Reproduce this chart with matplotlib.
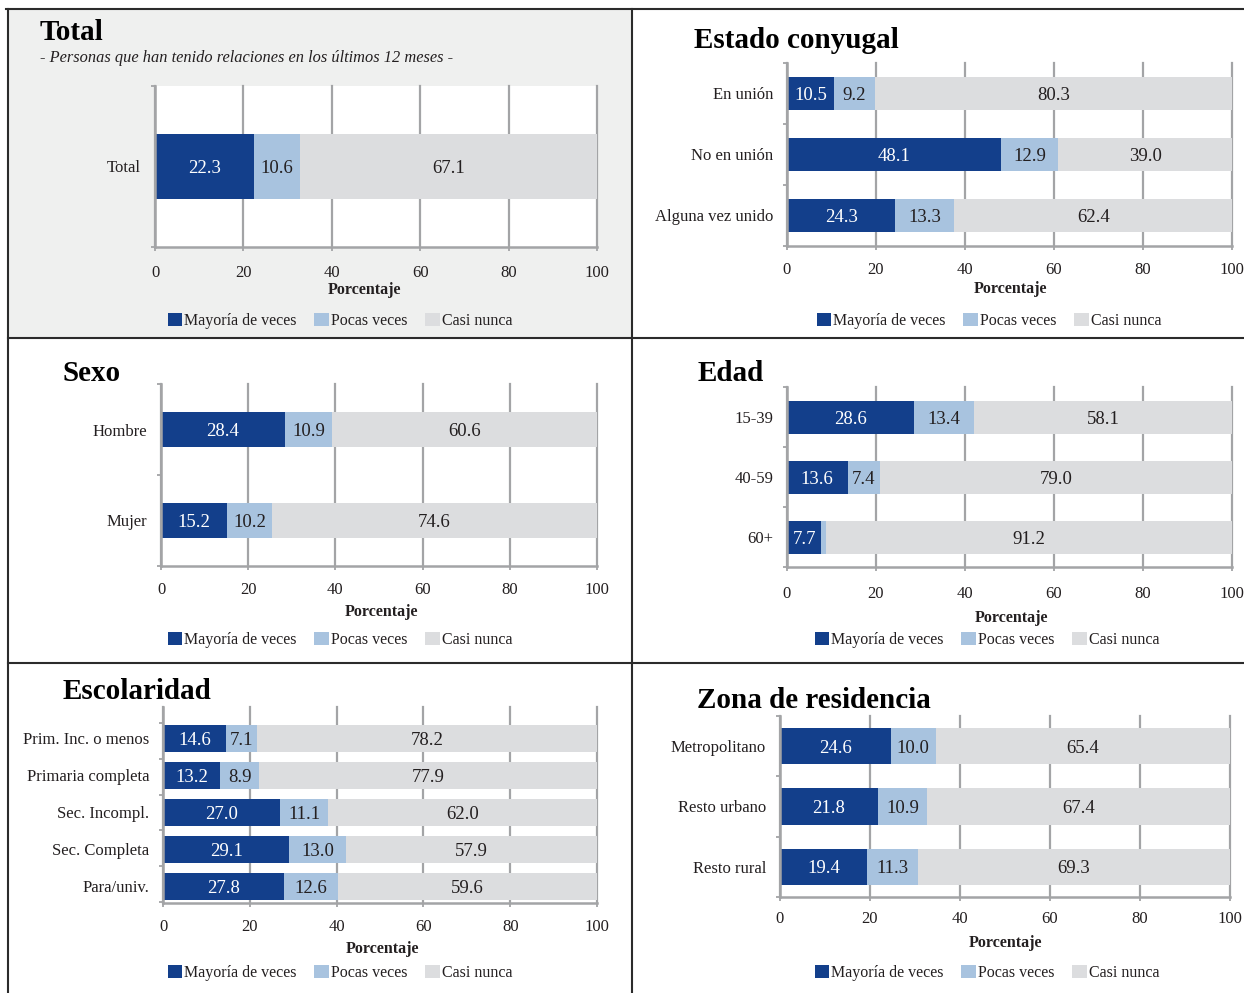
import matplotlib.pyplot as plt
from matplotlib.patches import Patch, Rectangle
from matplotlib.lines import Line2D

W, H = 1244, 993
plt.rcParams['font.family'] = ['Liberation Serif', 'DejaVu Serif']

series = ['Mayoría de veces', 'Pocas veces', 'Casi nunca']
colors = ['#133f8b', '#a8c3df', '#dcdddf']
text_colors = ['white', '#231f20', '#231f20']
grid_col = '#a3a4a6'
ink = '#231f20'

# data
total_cats = ['Total']
total_mayoria = [22.3]
total_pocas = [10.6]
total_casi = [67.1]

conyugal_cats = ['En unión', 'No en unión', 'Alguna vez unido']
conyugal_mayoria = [10.5, 48.1, 24.3]
conyugal_pocas = [9.2, 12.9, 13.3]
conyugal_casi = [80.3, 39.0, 62.4]

sexo_cats = ['Hombre', 'Mujer']
sexo_mayoria = [28.4, 15.2]
sexo_pocas = [10.9, 10.2]
sexo_casi = [60.6, 74.6]

edad_cats = ['15-39', '40-59', '60+']
edad_mayoria = [28.6, 13.6, 7.7]
edad_pocas = [13.4, 7.4, 1.1]
edad_casi = [58.1, 79.0, 91.2]

escol_cats = ['Prim. Inc. o menos', 'Primaria completa', 'Sec. Incompl.',
              'Sec. Completa', 'Para/univ.']
escol_mayoria = [14.6, 13.2, 27.0, 29.1, 27.8]
escol_pocas = [7.1, 8.9, 11.1, 13.0, 12.6]
escol_casi = [78.2, 77.9, 62.0, 57.9, 59.6]

zona_cats = ['Metropolitano', 'Resto urbano', 'Resto rural']
zona_mayoria = [24.6, 21.8, 19.4]
zona_pocas = [10.0, 10.9, 11.3]
zona_casi = [65.4, 67.4, 69.3]

xticks = [0, 20, 40, 60, 80, 100]


def fx(x):
    return x / W


def fy(y):
    return 1 - y / H


fig = plt.figure(figsize=(W / 100, H / 100), dpi=100)

# background of the first panel
fig.add_artist(Rectangle((fx(8), fy(338)), fx(632 - 8), (338 - 9) / H,
                         transform=fig.transFigure, facecolor='#eff0ef',
                         edgecolor='none', zorder=-1))


def panel(box, cats, vals, ylim, bar_h, yminor, title, title_xy,
          xlabel_xy, legend_xy, tick_gap):
    x0, y0, x1, y1 = box
    ax = fig.add_axes([fx(x0), fy(y1), fx(x1 - x0), (y1 - y0) / H])
    ax.set_facecolor('white')
    ypos = list(range(len(cats)))
    left = [0] * len(cats)
    for vs, c, tc in zip(vals, colors, text_colors):
        ax.barh(ypos, vs, left=left, height=bar_h, color=c, zorder=2)
        for y, l, v in zip(ypos, left, vs):
            if v >= 3:
                ax.text(l + v / 2, y, f'{v:.1f}', ha='center',
                        va='center_baseline', color=tc, fontsize=13.5,
                        zorder=3)
        left = [a + b for a, b in zip(left, vs)]
    ax.set_xlim(0, 100)
    ax.set_ylim(*ylim)
    ax.set_xticks(xticks)
    ax.set_yticks(ypos)
    ax.set_yticklabels(cats)
    ax.set_yticks(yminor, minor=True)
    ax.tick_params(axis='y', which='major', length=0, pad=10,
                   labelsize=12, labelcolor=ink)
    ax.tick_params(axis='y', which='minor', length=3, width=1.3,
                   color=grid_col, direction='out')
    ax.tick_params(axis='x', length=3, width=1.3, color=grid_col,
                   labelsize=12, labelcolor=ink,
                   pad=(tick_gap - 11) / 1.389)
    ax.xaxis.grid(True, color=grid_col, lw=1.6)
    for gl in ax.get_xgridlines():
        gl.set_clip_on(False)
    ax.set_axisbelow(True)
    for s in ['top', 'right']:
        ax.spines[s].set_visible(False)
    for s in ['left', 'bottom']:
        ax.spines[s].set_color(grid_col)
        ax.spines[s].set_linewidth(1.8)
    fig.text(fx(title_xy[0]), fy(title_xy[1]), title, fontsize=21,
             fontweight='bold', color='black', ha='left', va='baseline')
    fig.text(fx(xlabel_xy[0]), fy(xlabel_xy[1]), 'Porcentaje', fontsize=11.5,
             fontweight='bold', color=ink, ha='center', va='center')
    handles = [Patch(facecolor=c, edgecolor='none') for c in colors]
    fig.legend(handles, series, loc='center',
               bbox_to_anchor=(fx(legend_xy[0]), fy(legend_xy[1])),
               ncol=3, frameon=False, fontsize=11.5, handlelength=0.9,
               handleheight=0.9, handletextpad=0.15, columnspacing=1.1,
               borderaxespad=0, borderpad=0, labelcolor=ink)
    return ax


panel((155, 86, 597, 247), total_cats,
      [total_mayoria, total_pocas, total_casi], (0.5, -0.5), 0.4,
      [-0.5, 0.5], 'Total', (40, 40), (364, 290), (340, 321), 25)
fig.text(fx(40), fy(58), '- Personas que han tenido relaciones en los últimos 12 meses -',
         fontsize=11.8, style='italic', color=ink, ha='left', va='center')

panel((787, 63, 1232, 246), conyugal_cats,
      [conyugal_mayoria, conyugal_pocas, conyugal_casi], (2.5, -0.5), 0.54,
      [-0.5, 0.5, 1.5, 2.5], 'Estado conyugal', (694, 48), (1010, 289),
      (989, 321), 23)

panel((161, 384, 597, 566), sexo_cats,
      [sexo_mayoria, sexo_pocas, sexo_casi], (1.5, -0.5), 0.385,
      [-0.5, 0.5, 1.5], 'Sexo', (63, 381), (381, 612), (340, 640), 23)

panel((787, 387, 1232, 567), edad_cats,
      [edad_mayoria, edad_pocas, edad_casi], (2.5, -0.5), 0.55,
      [-0.5, 0.5, 1.5, 2.5], 'Edad', (698, 381), (1011, 618), (987, 640), 26)

panel((163, 707, 597, 903), escol_cats,
      [escol_mayoria, escol_pocas, escol_casi], (4.446, -0.851), 0.73,
      [-0.42, 0.55, 1.52, 2.48, 3.45, 4.42], 'Escolaridad', (63, 699),
      (382, 949), (340, 973), 23)

panel((780, 716, 1230, 897), zona_cats,
      [zona_mayoria, zona_pocas, zona_casi], (2.5, -0.5), 0.6,
      [-0.5, 0.5, 1.5, 2.5], 'Zona de residencia', (697, 708), (1005, 943),
      (987, 973), 21)

# panel borders
border = dict(color='#2b2b2b', lw=1.5, zorder=5)
for xs, ys in [((6, W), (9, 9)), ((8, 8), (9, H)), ((632, 632), (9, H)),
               ((8, W), (338, 338)), ((8, W), (663, 663))]:
    fig.add_artist(Line2D([fx(v) for v in xs], [fy(v) for v in ys], **border))

fig.savefig('out.png', dpi=100)
